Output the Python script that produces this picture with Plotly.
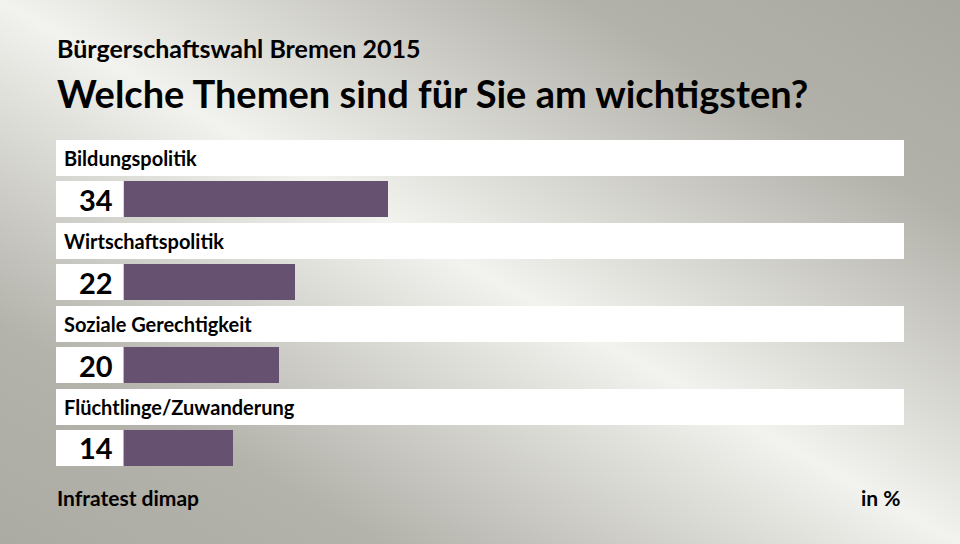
import base64
import plotly.graph_objects as go

# ---- data ----
categories = ["Bildungspolitik", "Wirtschaftspolitik", "Soziale Gerechtigkeit", "Flüchtlinge/Zuwanderung"]
values = [34, 22, 20, 14]
subtitle = "Bürgerschaftswahl Bremen 2015"
title = "Welche Themen sind für Sie am wichtigsten?"
source = "Infratest dimap"
unit = "in %"

# ---- layout geometry ----
W, H = 960, 544
L, R, T, B = 56, 56, 140, 78
PW, PH = W - L - R, H - T - B
XMIN, XMAX = -8.76, 100.5
YMIN, YMAX = -3.217, 0.711
BAR_W = 0.434
BAND_OFF = 0.494
FONT = "Lato"
BAR_COLOR = "#665270"

def px_x(px):
    return (px - L) / PW

def px_y(py):
    return (H - B - py) / PH

ypos = [-i for i in range(len(categories))]

fig = go.Figure()
fig.add_trace(go.Bar(
    x=values, y=ypos, orientation="h", width=BAR_W,
    marker=dict(color=BAR_COLOR, line=dict(width=0)),
    hoverinfo="skip", showlegend=False,
))

shapes = []
annotations = []
for cat, val, y in zip(categories, values, ypos):
    yc = y + BAND_OFF
    shapes.append(dict(type="rect", xref="paper", yref="y", x0=0, x1=1,
                       y0=yc - BAR_W / 2, y1=yc + BAR_W / 2,
                       fillcolor="white", line=dict(width=0), layer="below"))
    shapes.append(dict(type="rect", xref="x", yref="y", x0=XMIN, x1=-0.12,
                       y0=y - BAR_W / 2, y1=y + BAR_W / 2,
                       fillcolor="white", line=dict(width=0), layer="below"))
    annotations.append(dict(text=cat, xref="paper", yref="y", x=0, y=yc,
                            xanchor="left", yanchor="middle", xshift=6, showarrow=False,
                            font=dict(family=FONT, size=20, color="black", weight=700)))
    annotations.append(dict(text=str(val), xref="x", yref="y", x=0, y=y,
                            xanchor="right", yanchor="middle", xshift=-9, showarrow=False,
                            font=dict(family=FONT, size=29, color="black", weight=700)))

annotations += [
    dict(text=subtitle, xref="paper", yref="paper", x=px_x(55), y=px_y(48),
         xanchor="left", yanchor="middle", showarrow=False,
         font=dict(family=FONT, size=25, color="black", weight=700)),
    dict(text=title, xref="paper", yref="paper", x=px_x(55), y=px_y(93),
         xanchor="left", yanchor="middle", showarrow=False,
         font=dict(family=FONT, size=38, color="black", weight=700)),
    dict(text=source, xref="paper", yref="paper", x=px_x(55), y=px_y(497),
         xanchor="left", yanchor="middle", showarrow=False,
         font=dict(family=FONT, size=21, color="black", weight=700)),
    dict(text=unit, xref="paper", yref="paper", x=px_x(903), y=px_y(497),
         xanchor="right", yanchor="middle", showarrow=False,
         font=dict(family=FONT, size=21, color="black", weight=700)),
]

svg = f'''<svg xmlns="http://www.w3.org/2000/svg" width="{W}" height="{H}" viewBox="0 0 {W} {H}" preserveAspectRatio="none">
<defs>
<linearGradient id="g" gradientUnits="userSpaceOnUse" x1="247" y1="684" x2="713" y2="-140">
<stop offset="0" stop-color="#abaaa3"/>
<stop offset="0.2" stop-color="#b3b2ab"/>
<stop offset="0.5" stop-color="#f2f2ee"/>
<stop offset="0.8" stop-color="#b2b1aa"/>
<stop offset="1" stop-color="#a8a8a1"/>
</linearGradient>
</defs>
<rect x="0" y="0" width="{W}" height="{H}" fill="url(#g)"/>
</svg>'''
bg_uri = "data:image/svg+xml;base64," + base64.b64encode(svg.encode()).decode()

fig.update_layout(
    width=W, height=H,
    margin=dict(l=L, r=R, t=T, b=B),
    paper_bgcolor="#d0d0ca", plot_bgcolor="rgba(0,0,0,0)",
    xaxis=dict(range=[XMIN, XMAX], visible=False, fixedrange=True),
    yaxis=dict(range=[YMIN, YMAX], visible=False, fixedrange=True),
    shapes=shapes, annotations=annotations,
    images=[dict(source=bg_uri, xref="paper", yref="paper",
                 x=-L / PW, y=1 + T / PH, sizex=W / PW, sizey=H / PH,
                 xanchor="left", yanchor="top", sizing="stretch", layer="below")],
    bargap=0,
)

fig.write_html("out.html", config={"displayModeBar": False},
               post_script="document.body.style.margin='0';document.body.style.overflow='hidden';")
